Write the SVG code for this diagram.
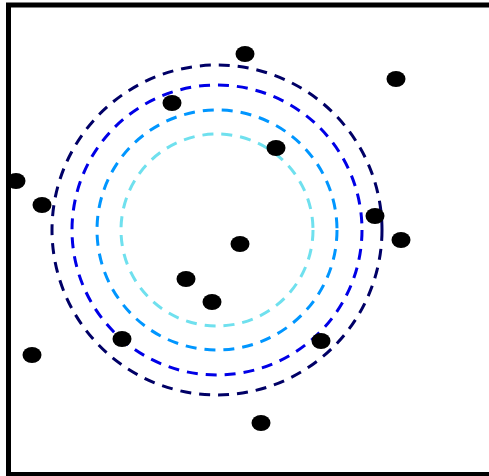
<svg xmlns="http://www.w3.org/2000/svg" width="489" height="476" viewBox="0 0 489 476">
<style>
.ring{fill:none;stroke-width:3;stroke-dasharray:11 8}
.dot{fill:#000}
</style>
<rect width="489" height="476" fill="#fff"/>
<rect x="8.5" y="5" width="483" height="469.5" fill="none" stroke="#000" stroke-width="5"/>
<g id="rings">
<circle id="r1" class="ring" cx="217" cy="230" r="165" stroke="#000066"/>
<circle id="r2" class="ring" cx="217" cy="230" r="145" stroke="#0000e6"/>
<circle id="r3" class="ring" cx="217" cy="230" r="120" stroke="#0096ff"/>
<circle id="r4" class="ring" cx="217" cy="230" r="96" stroke="#6fe0ee"/>
</g>
<g id="dots">
<ellipse class="dot" cx="245" cy="54" rx="9.5" ry="8"/>
<ellipse class="dot" cx="396" cy="79" rx="9.5" ry="8"/>
<ellipse class="dot" cx="172" cy="103" rx="9.5" ry="8"/>
<ellipse class="dot" cx="276" cy="148" rx="9.5" ry="8"/>
<ellipse class="dot" cx="16" cy="181" rx="9.5" ry="8"/>
<ellipse class="dot" cx="42" cy="205" rx="9.5" ry="8"/>
<ellipse class="dot" cx="375" cy="216" rx="9.5" ry="8"/>
<ellipse class="dot" cx="401" cy="240" rx="9.5" ry="8"/>
<ellipse class="dot" cx="240" cy="244" rx="9.5" ry="8"/>
<ellipse class="dot" cx="186" cy="279" rx="9.5" ry="8"/>
<ellipse class="dot" cx="212" cy="302" rx="9.5" ry="8"/>
<ellipse class="dot" cx="32" cy="355" rx="9.5" ry="8"/>
<ellipse class="dot" cx="122" cy="339" rx="9.5" ry="8"/>
<ellipse class="dot" cx="321" cy="341" rx="9.5" ry="8"/>
<ellipse class="dot" cx="261" cy="423" rx="9.5" ry="8"/>
</g>
</svg>
